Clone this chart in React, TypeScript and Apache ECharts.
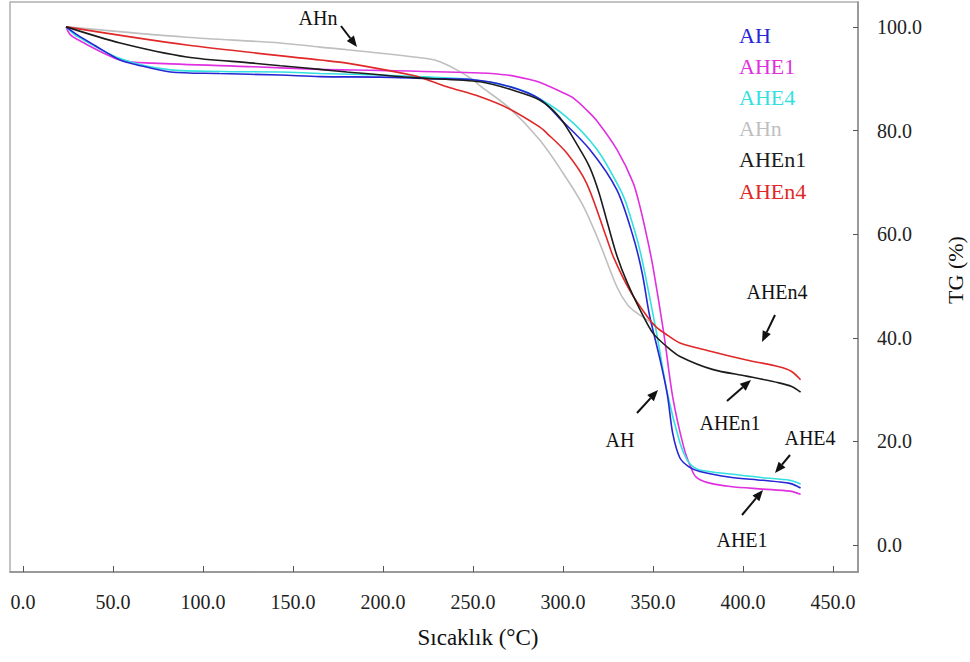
import React, { useEffect, useRef } from "react";
import * as echarts from "echarts";

const xTicks = [0, 50, 100, 150, 200, 250, 300, 350, 400, 450];
const yTicks = [0, 20, 40, 60, 80, 100];
const seriesNames = ["AH", "AHE1", "AHE4", "AHn", "AHEn1", "AHEn4"];
const seriesColors = ["#2626d4", "#e030e0", "#33e0e0", "#bfbfbf", "#1c1c1c", "#e02828"];
const xTitle = "Sıcaklık (°C)";
const yTitle = "TG (%)";

const ahData = [
  [24, 100], [30, 98.5], [40, 96.4], [54, 93.6], [63, 92.7], [82, 91.3], [109, 91.0], [143, 90.7],
  [165, 90.4], [198, 90.3], [226, 90.0], [250, 89.8], [269, 88.6], [287, 86.1], [298, 82.4],
  [315, 76.3], [330, 68.5], [339, 59.5], [344, 52.5], [348, 44.5], [354, 35.7], [358, 29.0],
  [361, 21.5], [365, 16.8], [370, 15.1], [376, 14.2], [393, 13.1], [411, 12.5], [426, 11.9], [432, 11.0]
];
const ahe1Data = [
  [24, 100], [26, 98.6], [30, 97.6], [54, 93.6], [72, 93.0], [128, 92.3], [165, 91.8], [198, 91.6],
  [254, 91.1], [269, 90.7], [282, 89.8], [287, 89.3], [300, 87.3], [306, 86.2], [313, 84.0],
  [319, 81.8], [330, 76.3], [339, 69.9], [343, 65.0], [347, 58.9], [350, 53.7], [356, 40.9],
  [361, 28.5], [367, 19.0], [371, 15.0], [374, 13.1], [380, 12.1], [393, 11.3], [411, 10.8], [426, 10.4], [432, 9.8]
];
const ahe4Data = [
  [24, 100], [30, 98.2], [54, 93.9], [82, 91.7], [110, 91.4], [143, 91.3], [165, 91.0], [198, 90.7],
  [226, 90.3], [250, 89.8], [269, 88.6], [283, 86.9], [302, 82.6], [319, 76.3], [332, 68.5],
  [336, 65.0], [343, 56.5], [352, 40.9], [358, 29.3], [365, 19.7], [369, 16.4], [372, 15.2],
  [376, 14.5], [393, 13.7], [411, 13.0], [426, 12.5], [432, 11.8]
];
const ahnData = [
  [24, 100], [91, 98.0], [143, 96.9], [165, 96.1], [180, 95.6], [226, 93.8], [232, 93.2],
  [241, 91.7], [250, 89.8], [254, 88.6], [270, 84.4], [287, 78.2], [300, 71.8], [311, 65.6],
  [320, 58.6], [330, 49.8], [336, 46.3], [341, 44.8], [347, 43.4], [351, 42.3]
];
const ahen1Data = [
  [24, 100], [54, 96.9], [91, 94.2], [128, 93.0], [143, 92.5], [165, 91.8], [180, 91.3],
  [217, 90.2], [254, 89.4], [272, 87.8], [287, 85.9], [298, 82.6], [309, 76.6], [315, 72.8],
  [320, 68.0], [325, 61.8], [330, 55.8], [336, 50.4], [343, 45.3], [350, 40.9], [358, 38.2],
  [365, 36.4], [383, 33.9], [402, 32.6], [420, 31.3], [427, 30.6], [432, 29.5]
];
const ahen4Data = [
  [24, 100], [91, 96.5], [165, 93.6], [180, 93.0], [217, 90.6], [226, 89.6], [236, 88.4], [254, 86.5],
  [270, 84.2], [287, 80.7], [291, 79.5], [302, 75.7], [313, 69.9], [324, 59.5], [328, 55.6],
  [337, 49.2], [347, 44.0], [352, 42.0], [358, 40.5], [365, 39.0], [383, 37.3], [402, 35.7],
  [420, 34.4], [427, 33.5], [432, 31.9]
];

const FONT = "Liberation Serif";

function arrow(x1: number, y1: number, x2: number, y2: number) {
  const ang = Math.atan2(y2 - y1, x2 - x1);
  const len = 11;
  const half = 4.5;
  const bx = x2 - len * Math.cos(ang);
  const by = y2 - len * Math.sin(ang);
  const px = -Math.sin(ang) * half;
  const py = Math.cos(ang) * half;
  return [
    {
      type: "line",
      shape: { x1, y1, x2: bx, y2: by },
      style: { stroke: "#111", lineWidth: 2 },
    },
    {
      type: "polygon",
      shape: { points: [[x2, y2], [bx + px, by + py], [bx - px, by - py]] },
      style: { fill: "#111" },
    },
  ];
}

function label(text: string, x: number, y: number, size = 20, rotation = 0) {
  return {
    type: "text",
    x,
    y,
    rotation,
    style: {
      text,
      fontFamily: FONT,
      fontSize: size,
      fill: "#111",
      align: "center",
      verticalAlign: "middle",
    },
  };
}

export default function App() {
  const ref = useRef<HTMLDivElement>(null);
  useEffect(() => {
    if (!ref.current) return;
    const chart = echarts.init(ref.current, undefined, { renderer: "svg" });
    const datasets = [ahData, ahe1Data, ahe4Data, ahnData, ahen1Data, ahen4Data];
    const drawOrder = [3, 1, 2, 0, 5, 4];
    const series = drawOrder.map((i) => ({
      name: seriesNames[i],
      type: "line",
      data: datasets[i],
      showSymbol: false,
      smooth: 0.3,
      lineStyle: { color: seriesColors[i], width: 1.6 },
      itemStyle: { color: seriesColors[i] },
    }));
    const legendTexts = seriesNames.map((n, i) => ({
      type: "text",
      x: 739,
      y: 35 + i * 31.2,
      style: {
        text: n,
        fontFamily: FONT,
        fontSize: 22,
        fill: seriesColors[i],
        verticalAlign: "middle",
      },
    }));
    const graphics = [
      ...legendTexts,
      label(xTitle, 478, 637, 23),
      label(yTitle, 955, 270, 22, Math.PI / 2),
      label("AHn", 318, 18),
      ...arrow(341, 26, 357, 47),
      label("AHEn4", 777, 292),
      ...arrow(775, 315, 762, 342),
      label("AHEn1", 730, 423),
      ...arrow(727, 401, 751, 380),
      label("AH", 620, 440),
      ...arrow(637, 413, 658, 390),
      label("AHE4", 810, 438),
      ...arrow(790, 455, 775, 473),
      label("AHE1", 742, 540),
      ...arrow(742, 515, 763, 490),
    ];
    chart.setOption({
      animation: false,
      backgroundColor: "#ffffff",
      textStyle: { fontFamily: FONT },
      grid: {
        left: 10,
        right: 112,
        top: 2,
        bottom: 90,
        show: true,
        borderColor: "#b0b0b0",
        borderWidth: 1.5,
      },
      xAxis: {
        type: "value",
        min: -7.2,
        max: 463.9,
        axisLine: { show: true, onZero: false, lineStyle: { color: "#8c8c8c", width: 1.5 } },
        axisTick: { show: true, inside: true, length: 6, customValues: xTicks, lineStyle: { color: "#555" } },
        axisLabel: {
          customValues: xTicks,
          formatter: (v: number) => v.toFixed(1),
          margin: 20,
          fontFamily: FONT,
          fontSize: 20,
          color: "#222",
        },
        splitLine: { show: false },
      },
      yAxis: {
        type: "value",
        position: "right",
        min: -5.2,
        max: 104.8,
        axisLine: { show: true, onZero: false, lineStyle: { color: "#8c8c8c", width: 1.5 } },
        axisTick: { show: true, inside: true, length: 5, customValues: yTicks, lineStyle: { color: "#555" } },
        axisLabel: {
          customValues: yTicks,
          formatter: (v: number) => v.toFixed(1),
          margin: 19,
          fontFamily: FONT,
          fontSize: 20,
          color: "#222",
        },
        splitLine: { show: false },
      },
      graphic: graphics,
      series,
    });
    return () => chart.dispose();
  }, []);
  return (
    <div
      ref={ref}
      style={{ position: "fixed", left: 0, top: 0, width: 970, height: 662, background: "#fff" }}
    />
  );
}
